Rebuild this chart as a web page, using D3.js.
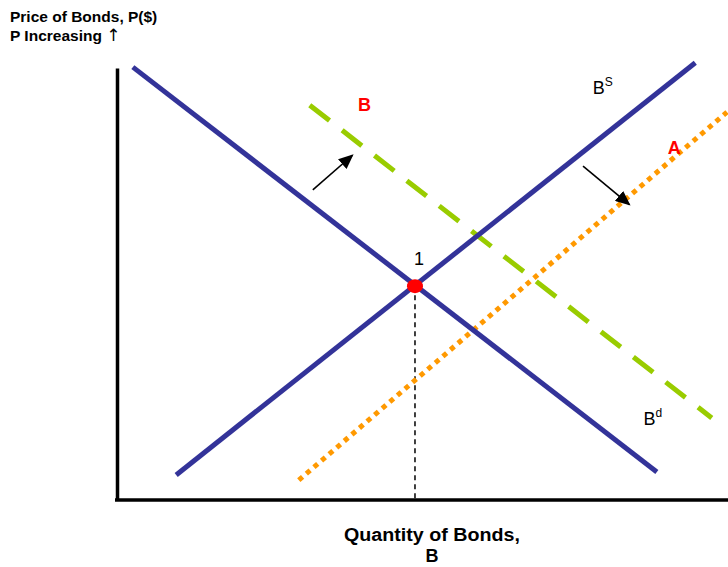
<!DOCTYPE html>
<html><head><meta charset="utf-8">
<script src="https://cdn.jsdelivr.net/npm/d3@7"></script>
<style>body{margin:0;background:#fff;} svg{display:block;font-family:"Liberation Sans",Arial,sans-serif;}</style>
</head><body>
<svg id="chart" width="728" height="567"></svg>
<script>
// Curves: endpoints in data units (quantity 0-100, price 0-100)
const demand = [[2.6, 100.2], [88.5, 6.5]];
const supply = [[9.7, 5.8], [94.8, 101.2]];
const demandShift = [[31.6, 91.4], [97.5, 19.0]];
const supplyShift = [[29.8, 4.6], [100, 89.8]];
const equilibrium = [48.85, 49.5];
const arrows = [[[32.1, 71.8], [38.6, 79.8]], [[76.4, 77.3], [84.0, 68.4]]];
const curveLabels = [
  {text: "B", sup: "S", x: 78.0, y: 94.0, color: "#000", bold: false},
  {text: "B", sup: "d", x: 86.3, y: 17.3, color: "#000", bold: false},
  {text: "B", sup: "", x: 39.5, y: 90.0, color: "#ff0000", bold: true},
  {text: "A", sup: "", x: 90.3, y: 80.2, color: "#ff0000", bold: true},
  {text: "1", sup: "", x: 48.7, y: 54.3, color: "#000", bold: false}
];
const yTitle = ["Price of Bonds, P($)", "P Increasing "];
const xTitle = ["Quantity of Bonds,", "B"];

const svg = d3.select("#chart");
const x = d3.scaleLinear().domain([0, 100]).range([117, 727]);
const y = d3.scaleLinear().domain([0, 100]).range([500, 68]);
const line = d3.line().x(d => x(d[0])).y(d => y(d[1]));

svg.append("defs").append("marker")
  .attr("id", "ah").attr("viewBox", "0 0 10 10").attr("refX", 9).attr("refY", 5)
  .attr("markerWidth", 15).attr("markerHeight", 13).attr("markerUnits", "userSpaceOnUse")
  .attr("orient", "auto").attr("preserveAspectRatio", "none")
  .append("path").attr("d", "M0,0 L10,5 L0,10 Z").attr("fill", "#000");

// axes (no ticks)
const xAxis = d3.axisBottom(x).tickValues([]).tickSizeOuter(0);
const yAxis = d3.axisLeft(y).tickValues([]).tickSizeOuter(0);
svg.append("g").attr("transform", `translate(0,${y(0)})`).call(xAxis)
  .select(".domain").attr("stroke", "#000").attr("stroke-width", 3.5).attr("d", `M115,0H728`);
svg.append("g").attr("transform", `translate(${x(0)},0)`).call(yAxis)
  .select(".domain").attr("stroke", "#000").attr("stroke-width", 3.5);

// dashed drop line
svg.append("path").attr("d", line([equilibrium, [equilibrium[0], 0]]))
  .attr("stroke", "#000").attr("stroke-width", 1.5).attr("stroke-dasharray", "5,4").attr("fill", "none");

// curves
svg.append("path").attr("d", line(demandShift)).attr("stroke", "#99cc00").attr("stroke-width", 5)
  .attr("stroke-dasharray", "25,16").attr("fill", "none");
svg.append("path").attr("d", line(supplyShift)).attr("stroke", "#ff9900").attr("stroke-width", 5)
  .attr("stroke-dasharray", "5,5").attr("fill", "none");
svg.append("path").attr("d", line(demand)).attr("stroke", "#333399").attr("stroke-width", 5).attr("fill", "none");
svg.append("path").attr("d", line(supply)).attr("stroke", "#333399").attr("stroke-width", 5).attr("fill", "none");

// arrows
arrows.forEach(a => {
  svg.append("path").attr("d", line(a)).attr("stroke", "#000").attr("stroke-width", 1.6)
    .attr("fill", "none").attr("marker-end", "url(#ah)");
});

// equilibrium point
svg.append("ellipse").attr("cx", x(equilibrium[0])).attr("cy", y(equilibrium[1])).attr("rx", 8).attr("ry", 7).attr("fill", "#ff0000");

// labels
curveLabels.forEach(l => {
  const t = svg.append("text").attr("x", x(l.x)).attr("y", y(l.y))
    .attr("fill", l.color).attr("font-size", 18).attr("font-weight", l.bold ? "bold" : "normal").text(l.text);
  if (l.sup) t.append("tspan").attr("font-size", 12).attr("dy", -8).text(l.sup);
});

const yt = svg.selectAll(".yt").data(yTitle).enter().append("text")
  .attr("x", 10).attr("y", (d, i) => 22 + i * 19).attr("font-size", 15.5).attr("font-weight", "bold").text(d => d);
yt.filter((d, i) => i === 1).append("tspan")
  .attr("font-family", "DejaVu Sans").attr("font-weight", "normal").attr("font-size", 17).text("\u2191");
const xt = svg.selectAll(".xt").data(xTitle).enter().append("text")
  .attr("x", 432).attr("y", (d, i) => 541 + i * 21).attr("text-anchor", "middle")
  .attr("font-size", 18).attr("font-weight", "bold").text(d => d);
xt.filter((d, i) => i === 0).attr("textLength", 176).attr("lengthAdjust", "spacingAndGlyphs");
</script>
</body></html>
